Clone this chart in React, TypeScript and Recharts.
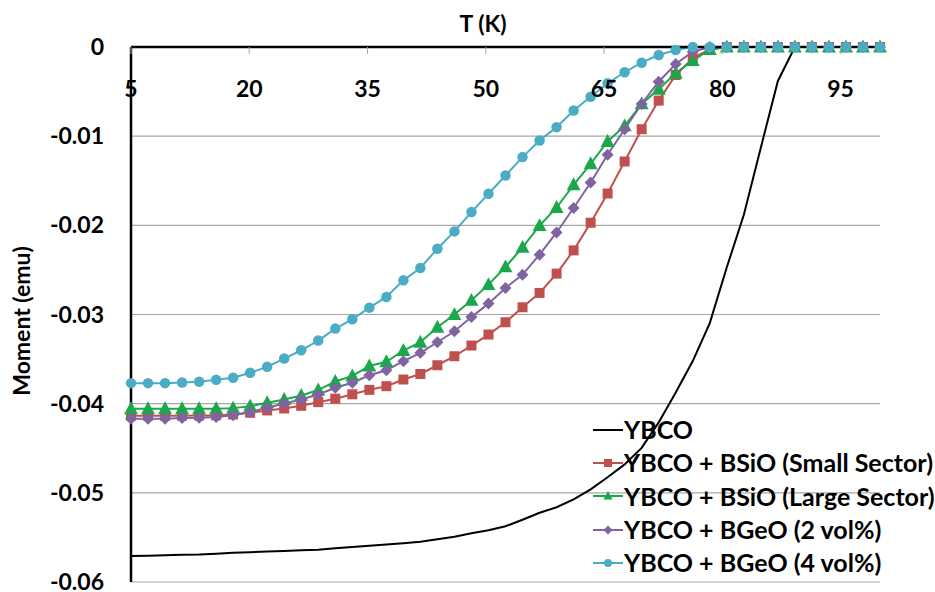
import React from 'react';
import { LineChart, Line, XAxis, YAxis, CartesianGrid, Legend, Label } from 'recharts';

// Temperature (K)
const temperatures = [
  5.0, 7.16, 9.32, 11.48, 13.64, 15.8, 17.95, 20.11, 22.27, 24.43,
  26.59, 28.75, 30.91, 33.07, 35.23, 37.39, 39.55, 41.7, 43.86, 46.02,
  48.18, 50.34, 52.5, 54.66, 56.82, 58.98, 61.14, 63.3, 65.45, 67.61,
  69.77, 71.93, 74.09, 76.25, 78.41, 80.57, 82.73, 84.89, 87.05, 89.2,
  91.36, 93.52, 95.68, 97.84, 100.0,
];

const ybco = [
  -0.05708, -0.05706, -0.057, -0.05694, -0.05691, -0.05683, -0.05672, -0.05666, -0.05659, -0.05652,
  -0.05644, -0.05638, -0.05622, -0.05608, -0.05594, -0.0558, -0.05566, -0.05549, -0.05521, -0.05493,
  -0.05454, -0.0542, -0.05375, -0.05302, -0.05224, -0.05162, -0.05073, -0.04961, -0.04826, -0.04681,
  -0.04496, -0.0421, -0.03875, -0.03522, -0.03096, -0.02471, -0.01881, -0.01127, -0.00381, 0,
  0, 0, 0, 0, 0,
];

const bsioSmall = [
  -0.04135, -0.04135, -0.04135, -0.04135, -0.04133, -0.0413, -0.04121, -0.04102, -0.04076, -0.04054,
  -0.04024, -0.03983, -0.03944, -0.03895, -0.03845, -0.03804, -0.03729, -0.03667, -0.03569, -0.03468,
  -0.03348, -0.03225, -0.03087, -0.02919, -0.02758, -0.02542, -0.02281, -0.01971, -0.01643, -0.01284,
  -0.00922, -0.00601, -0.00314, -0.00127, -0.00026, 0, 0, 0, 0, 0,
  0, 0, 0, 0, 0,
];

const bsioLarge = [
  -0.04057, -0.04057, -0.04057, -0.04057, -0.04057, -0.04057, -0.0405, -0.04028, -0.0399, -0.03953,
  -0.03908, -0.03847, -0.03751, -0.03688, -0.03578, -0.0353, -0.03404, -0.03311, -0.03143, -0.03001,
  -0.02841, -0.02665, -0.02467, -0.02248, -0.02004, -0.018, -0.01545, -0.0131, -0.0106, -0.00885,
  -0.00638, -0.00474, -0.00295, -0.00153, -0.0003, 0, 0, 0, 0, 0,
  0, 0, 0, 0, 0,
];

const bgeo2 = [
  -0.04169, -0.04169, -0.04169, -0.04162, -0.04158, -0.04149, -0.04129, -0.04093, -0.04046, -0.03998,
  -0.03953, -0.03897, -0.03822, -0.03765, -0.03682, -0.03625, -0.03524, -0.0343, -0.03311, -0.03188,
  -0.03027, -0.02878, -0.02702, -0.02553, -0.02329, -0.0208, -0.01806, -0.0152, -0.01209, -0.00922,
  -0.00638, -0.00389, -0.0019, -0.00053, 0, 0, 0, 0, 0, 0,
  0, 0, 0, 0, 0,
];

const bgeo4 = [
  -0.0377, -0.0377, -0.0377, -0.03763, -0.03755, -0.03733, -0.0371, -0.03654, -0.03587, -0.03494,
  -0.03401, -0.03292, -0.03158, -0.03054, -0.02923, -0.02803, -0.02617, -0.02478, -0.02262, -0.02068,
  -0.01851, -0.01646, -0.01441, -0.01235, -0.01049, -0.00899, -0.00713, -0.00557, -0.00406, -0.00283,
  -0.00176, -0.0009, -0.00034, 0, 0, 0, 0, 0, 0, 0,
  0, 0, 0, 0, 0,
];

const xTicks = [5, 20, 35, 50, 65, 80, 95];
const yTicks = [0, -0.01, -0.02, -0.03, -0.04, -0.05, -0.06];

const seriesOrder = ['ybco', 'small', 'large', 'geo2', 'geo4'];
const seriesNames: Record<string, string> = {
  ybco: 'YBCO',
  small: 'YBCO + BSiO (Small Sector)',
  large: 'YBCO + BSiO (Large Sector)',
  geo2: 'YBCO + BGeO (2 vol%)',
  geo4: 'YBCO + BGeO (4 vol%)',
};

const data = temperatures.map((t, i) => ({
  T: t,
  ybco: ybco[i],
  small: bsioSmall[i],
  large: bsioLarge[i],
  geo2: bgeo2[i],
  geo4: bgeo4[i],
}));

const FONT = 'Lato, "Open Sans", sans-serif';
const FS = 23;
const LEGEND_FS = 25;

const COLORS: Record<string, string> = {
  ybco: '#000000',
  small: '#C0504D',
  large: '#1BA84A',
  geo2: '#8064A2',
  geo4: '#4BACC6',
};

type Shape = 'none' | 'square' | 'triangle' | 'diamond' | 'circle';
const SHAPES: Record<string, Shape> = {
  ybco: 'none',
  small: 'square',
  large: 'triangle',
  geo2: 'diamond',
  geo4: 'circle',
};

function marker(shape: Shape, cx: number, cy: number, s: number, color: string, key?: any) {
  switch (shape) {
    case 'square':
      return <rect key={key} x={cx - s / 2} y={cy - s / 2} width={s} height={s} fill={color} />;
    case 'triangle':
      return (
        <polygon
          key={key}
          points={`${cx},${cy - s * 0.62} ${cx - s * 0.58},${cy + s * 0.45} ${cx + s * 0.58},${cy + s * 0.45}`}
          fill={color}
        />
      );
    case 'diamond':
      return (
        <polygon
          key={key}
          points={`${cx},${cy - s / 2} ${cx + s / 2},${cy} ${cx},${cy + s / 2} ${cx - s / 2},${cy}`}
          fill={color}
        />
      );
    case 'circle':
      return <circle key={key} cx={cx} cy={cy} r={s / 2} fill={color} />;
    default:
      return <g key={key} />;
  }
}

const makeDot = (shape: Shape, color: string, size: number) => (props: any) => {
  const { cx, cy, index } = props;
  if (cx == null || cy == null) return <g key={`d${index}`} />;
  return marker(shape, cx, cy, size, color, `d${index}`);
};

const XTick = (props: any) => {
  const { x, y, payload } = props;
  return (
    <g>
      <line x1={x} x2={x} y1={y + 8} y2={y + 15} stroke="#A6A6A6" strokeWidth={1} />
      <text
        x={x}
        y={y + 58}
        textAnchor="middle"
        fontFamily={FONT}
        fontWeight={700}
        fontSize={FS}
        fill="#000"
      >
        {payload.value}
      </text>
    </g>
  );
};

const LegendContent = () => {
  return (
    <div style={{ fontFamily: FONT, fontWeight: 700, fontSize: LEGEND_FS, color: '#000' }}>
      {seriesOrder.map((key) => {
        const color = COLORS[key];
        return (
          <div key={key} style={{ display: 'flex', alignItems: 'center', height: 33.3, whiteSpace: 'nowrap' }}>
            <svg width={31} height={20} style={{ flex: 'none' }}>
              <line x1={0} x2={30} y1={10} y2={10} stroke={color} strokeWidth={2} />
              {marker(SHAPES[key], 15, 10, SHAPES[key] === 'diamond' ? 9 : 8, color)}
            </svg>
            <span style={{ lineHeight: '33px' }}>{seriesNames[key]}</span>
          </div>
        );
      })}
    </div>
  );
};

const dotSizes: Record<string, number> = { small: 10, large: 12, geo2: 12, geo4: 10.5 };

export default function App() {
  return (
    <div style={{ position: 'absolute', left: 0, top: 0, width: 935, height: 592, background: '#fff' }}>
      <LineChart
        width={935}
        height={592}
        data={data}
        margin={{ top: 17, right: 55, bottom: 10, left: 0 }}
      >
        <CartesianGrid vertical={false} stroke="#A6A6A6" strokeWidth={1.2} />
        <XAxis
          dataKey="T"
          type="number"
          domain={[5, 100]}
          ticks={xTicks}
          interval={0}
          orientation="top"
          height={30}
          axisLine={{ stroke: '#000', strokeWidth: 2.5 }}
          tickLine={false}
          tick={<XTick />}
        >
          <Label
            content={() => (
              <text
                x={483}
                y={32}
                textAnchor="middle"
                fontFamily={FONT}
                fontWeight={700}
                fontSize={FS}
                fill="#000"
              >
                T (K)
              </text>
            )}
          />
        </XAxis>
        <YAxis
          type="number"
          domain={[-0.06, 0]}
          ticks={yTicks}
          interval={0}
          width={131}
          axisLine={{ stroke: '#000', strokeWidth: 2.5 }}
          tickLine={false}
          tickMargin={21}
          tick={{ fontFamily: FONT, fontWeight: 700, fontSize: FS, fill: '#000' }}
        >
          <Label
            content={() => (
              <text
                transform="translate(30,321) rotate(-90)"
                textAnchor="middle"
                fontFamily={FONT}
                fontWeight={700}
                fontSize={FS}
                fill="#000"
              >
                Moment (emu)
              </text>
            )}
          />
        </YAxis>
        <Legend
          layout="vertical"
          align="center"
          verticalAlign="middle"
          wrapperStyle={{ left: 593, top: 413, width: 342, height: 170 }}
          content={<LegendContent />}
        />
        <Line
          dataKey="ybco"
          name={seriesNames.ybco}
          stroke={COLORS.ybco}
          strokeWidth={2}
          dot={false}
          activeDot={false}
          isAnimationActive={false}
          type="linear"
        />
        {seriesOrder.slice(1).map((key) => (
          <Line
            key={key}
            dataKey={key}
            name={seriesNames[key]}
            stroke={COLORS[key]}
            strokeWidth={2}
            dot={makeDot(SHAPES[key], COLORS[key], dotSizes[key])}
            activeDot={false}
            isAnimationActive={false}
            type="linear"
          />
        ))}
      </LineChart>
    </div>
  );
}
